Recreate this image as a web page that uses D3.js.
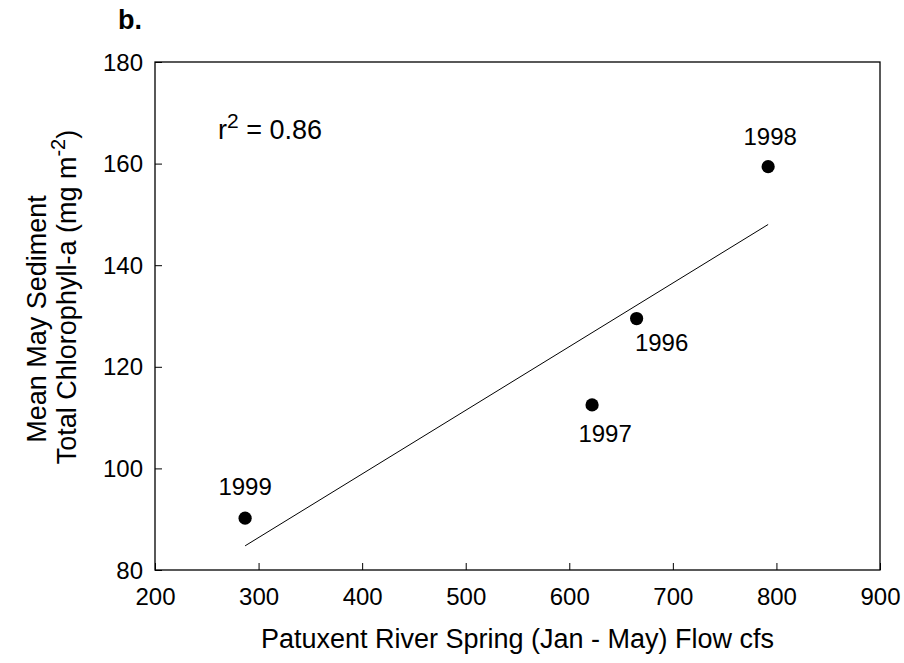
<!DOCTYPE html>
<html>
<head>
<meta charset="utf-8">
<script src="https://cdn.jsdelivr.net/npm/d3@7"></script>
<style>
  body { margin: 0; background: #fff; }
  svg text { font-family: "Liberation Sans", Arial, sans-serif; fill: #000; }
</style>
</head>
<body>
<svg class="chart"></svg>
<script>
// data
const years = ['1996', '1997', '1998', '1999']
const flowCfs = [665, 622, 792, 287]
const chlA = [129.5, 112.5, 159.4, 90.2]
const xTicks = [200, 300, 400, 500, 600, 700, 800, 900]
const yTicks = [80, 100, 120, 140, 160, 180]
const rSquared = 0.86

// where each year label sits relative to its dot
const labelOffset = {
  1996: [25, 32],
  1997: [13, 37],
  1998: [2, -22],
  1999: [0, -23]
}

const width = 904
const height = 663
const margin = { top: 62, right: 24, bottom: 93, left: 155 }
const plotW = width - margin.left - margin.right
const plotH = height - margin.top - margin.bottom

const xScale = d3.scaleLinear().domain([200, 900]).range([0, plotW])
const yScale = d3.scaleLinear().domain([80, 180]).range([plotH, 0])

const chart = d3.select('.chart')
  .attr('width', width)
  .attr('height', height)

const g = chart.append('g').attr('transform', `translate(${margin.left},${margin.top})`)

// axes with inward ticks
const xAxis = g.append('g')
  .attr('transform', `translate(0,${plotH})`)
  .call(d3.axisBottom(xScale).tickValues(xTicks).tickSizeInner(-7).tickSizeOuter(0).tickPadding(18))
const yAxis = g.append('g')
  .call(d3.axisLeft(yScale).tickValues(yTicks).tickSizeInner(-7).tickSizeOuter(0).tickPadding(12))

;[xAxis, yAxis].forEach(ax => {
  ax.select('.domain').remove()
  ax.selectAll('line').attr('stroke', '#000').attr('stroke-width', 1)
  ax.selectAll('text').style('font-size', '24px').attr('font-family', null)
})
yAxis.selectAll('text').attr('dy', '0.34em')

// frame
g.append('rect')
  .attr('width', plotW)
  .attr('height', plotH)
  .attr('fill', 'none')
  .attr('stroke', '#000')
  .attr('stroke-width', 1.3)

// least squares fit across the observed range
const mx = d3.mean(flowCfs)
const my = d3.mean(chlA)
const slope = d3.sum(flowCfs, (x, i) => (x - mx) * (chlA[i] - my)) / d3.sum(flowCfs, x => (x - mx) ** 2)
const intercept = my - slope * mx
const fitX = d3.extent(flowCfs)

g.append('line')
  .attr('x1', xScale(fitX[0]))
  .attr('y1', yScale(intercept + slope * fitX[0]))
  .attr('x2', xScale(fitX[1]))
  .attr('y2', yScale(intercept + slope * fitX[1]))
  .attr('stroke', '#000')
  .attr('stroke-width', 1)

// points and year labels
const pts = g.append('g').selectAll('g')
  .data(years)
  .enter()
  .append('g')
  .attr('transform', (d, i) => `translate(${xScale(flowCfs[i])},${yScale(chlA[i])})`)

pts.append('circle')
  .attr('r', 6.6)
  .attr('fill', '#000')

pts.append('text')
  .attr('x', d => labelOffset[d][0])
  .attr('y', d => labelOffset[d][1])
  .attr('text-anchor', 'middle')
  .style('font-size', '24px')
  .text(d => d)

// r squared note
const r2 = g.append('text')
  .attr('x', 218 - margin.left)
  .attr('y', 139 - margin.top)
  .style('font-size', '27px')
r2.append('tspan').text('r')
r2.append('tspan').attr('dy', -11).style('font-size', '21px').text('2')
r2.append('tspan').attr('dy', 11).text(` = ${rSquared.toFixed(2)}`)

// panel letter
chart.append('text')
  .attr('x', 118)
  .attr('y', 29)
  .style('font-size', '27px')
  .style('font-weight', 'bold')
  .text('b.')

// axis titles
chart.append('text')
  .attr('x', margin.left + plotW / 2)
  .attr('y', 648)
  .attr('text-anchor', 'middle')
  .style('font-size', '27px')
  .text('Patuxent River Spring (Jan - May) Flow cfs')

chart.append('text')
  .attr('transform', 'rotate(-90)')
  .attr('x', -319)
  .attr('y', 46)
  .attr('text-anchor', 'middle')
  .style('font-size', '27px')
  .text('Mean May Sediment')

const yt = chart.append('text')
  .attr('transform', 'rotate(-90)')
  .attr('x', -297)
  .attr('y', 76)
  .attr('text-anchor', 'middle')
  .style('font-size', '27px')
yt.append('tspan').text('Total Chlorophyll-a (mg m')
yt.append('tspan').attr('dy', -11).style('font-size', '20px').text('-2')
yt.append('tspan').attr('dy', 11).text(')')
</script>
</body>
</html>
